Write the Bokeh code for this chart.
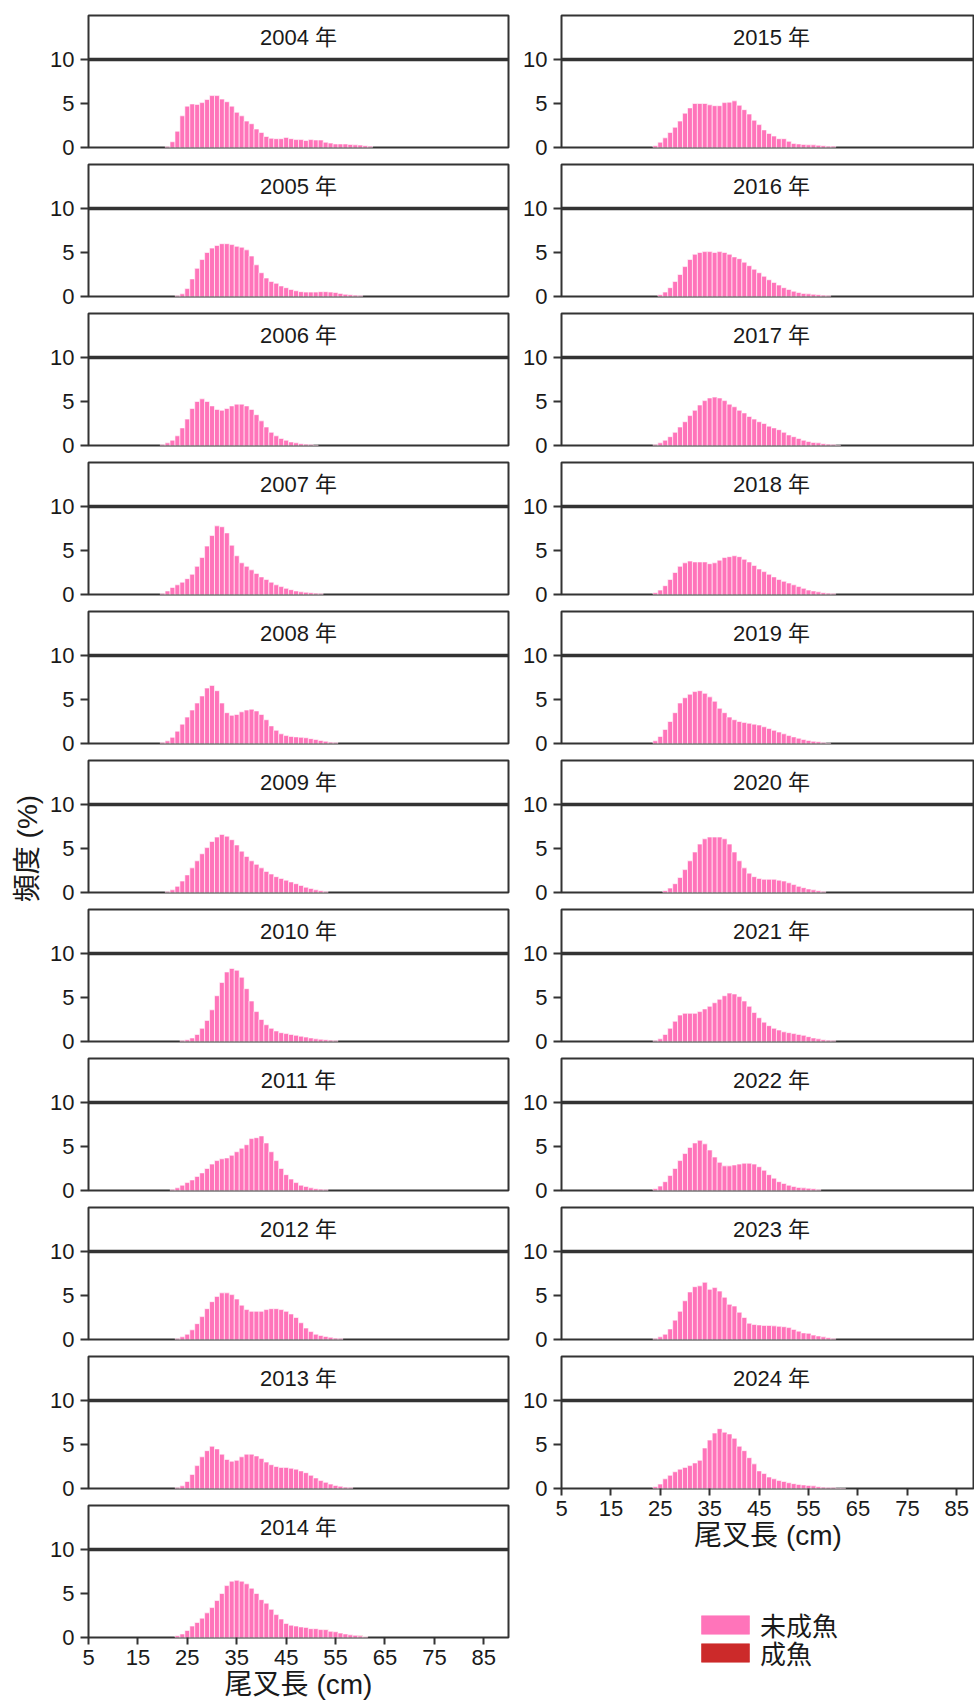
import math
from bokeh.plotting import figure
from bokeh.layouts import row, column
from bokeh.models import Range1d, FixedTicker, Span, Legend, LegendItem, ColumnDataSource
from bokeh.core.properties import value
from bokeh.embed import file_html
from bokeh.resources import INLINE

# ---------------- data ----------------
years_left = [2004, 2005, 2006, 2007, 2008, 2009, 2010, 2011, 2012, 2013, 2014]
years_right = [2015, 2016, 2017, 2018, 2019, 2020, 2021, 2022, 2023, 2024]
x_ticks = [5, 15, 25, 35, 45, 55, 65, 75, 85]
y_ticks = [0, 5, 10]
x_label = "尾叉長 (cm)"
y_label = "頻度 (%)"
legend_labels = ["未成魚", "成魚"]

# first length bin (cm) of each year's immature list
start_bin = {2004: 21, 2005: 23, 2006: 20, 2007: 20, 2008: 20, 2009: 21, 2010: 24,
             2011: 22, 2012: 23, 2013: 23, 2014: 23, 2015: 24, 2016: 25, 2017: 24,
             2018: 24, 2019: 24, 2020: 26, 2021: 24, 2022: 24, 2023: 24, 2024: 24}

imm_2004 = [0.1, 0.65, 1.85, 3.6, 4.7, 4.95, 4.9, 5.1, 5.45, 5.9, 5.9, 5.5, 5.2, 4.7, 4.0, 3.6,
            3.0, 2.7, 2.1, 1.7, 1.25, 1.05, 1.0, 1.0, 1.15, 1.0, 0.9, 0.9, 0.8, 0.9, 0.85, 0.85,
            0.6, 0.5, 0.4, 0.4, 0.4, 0.35, 0.3, 0.27, 0.2, 0.15]
imm_2005 = [0.1, 0.3, 0.9, 2.0, 3.2, 4.2, 5.0, 5.5, 5.8, 6.0, 6.0, 5.9, 5.7, 5.6, 5.3, 4.6,
            3.6, 2.7, 2.1, 1.7, 1.5, 1.2, 1.0, 0.8, 0.65, 0.55, 0.5, 0.5, 0.5, 0.55, 0.55, 0.5,
            0.45, 0.35, 0.25, 0.2, 0.15, 0.1]
imm_2006 = [0.1, 0.3, 0.6, 1.1, 2.0, 3.0, 4.2, 5.0, 5.3, 5.0, 4.5, 4.1, 4.0, 4.2, 4.5, 4.7,
            4.7, 4.5, 4.1, 3.5, 2.8, 2.1, 1.5, 1.1, 0.8, 0.6, 0.4, 0.3, 0.2, 0.15, 0.1, 0.05]
imm_2007 = [0.1, 0.4, 0.8, 1.1, 1.4, 1.8, 2.3, 3.2, 4.2, 5.5, 6.7, 7.8, 7.7, 7.0, 5.6, 4.4,
            3.6, 3.2, 2.8, 2.4, 2.0, 1.7, 1.4, 1.1, 0.9, 0.7, 0.55, 0.4, 0.3, 0.25, 0.2, 0.15, 0.1]
imm_2008 = [0.1, 0.3, 0.7, 1.4, 2.2, 3.0, 3.8, 4.6, 5.4, 6.3, 6.6, 6.0, 4.6, 3.5, 3.2, 3.3,
            3.6, 3.8, 3.9, 3.7, 3.3, 2.7, 2.0, 1.5, 1.1, 0.9, 0.8, 0.75, 0.7, 0.65, 0.55, 0.45,
            0.35, 0.25, 0.15, 0.1]
imm_2009 = [0.1, 0.3, 0.7, 1.3, 2.0, 2.8, 3.6, 4.4, 5.1, 5.8, 6.3, 6.6, 6.4, 6.0, 5.4, 4.7,
            4.1, 3.6, 3.2, 2.8, 2.4, 2.1, 1.8, 1.6, 1.4, 1.2, 1.0, 0.8, 0.6, 0.45, 0.3, 0.2, 0.1]
imm_2010 = [0.1, 0.2, 0.4, 0.8, 1.5, 2.4, 3.6, 5.2, 6.7, 7.9, 8.3, 8.1, 7.3, 6.0, 4.6, 3.4,
            2.5, 1.9, 1.5, 1.2, 1.0, 0.9, 0.8, 0.7, 0.6, 0.5, 0.4, 0.3, 0.25, 0.2, 0.15, 0.1]
imm_2011 = [0.1, 0.3, 0.6, 0.9, 1.2, 1.6, 2.0, 2.5, 3.0, 3.4, 3.6, 3.7, 4.0, 4.4, 4.8, 5.2,
            5.9, 6.0, 6.2, 5.4, 4.4, 3.4, 2.5, 1.8, 1.3, 0.9, 0.6, 0.45, 0.3, 0.2, 0.15, 0.1]
imm_2012 = [0.1, 0.3, 0.6, 1.1, 1.8, 2.6, 3.5, 4.3, 4.9, 5.3, 5.3, 5.1, 4.6, 3.9, 3.4, 3.2,
            3.2, 3.2, 3.4, 3.5, 3.5, 3.4, 3.2, 2.9, 2.5, 1.9, 1.3, 0.9, 0.6, 0.45, 0.35, 0.25,
            0.15, 0.1]
imm_2013 = [0.1, 0.3, 0.8, 1.6, 2.6, 3.6, 4.3, 4.8, 4.5, 3.9, 3.3, 3.1, 3.2, 3.6, 3.9, 3.9,
            3.7, 3.4, 3.0, 2.7, 2.5, 2.4, 2.4, 2.3, 2.2, 2.0, 1.8, 1.5, 1.2, 0.9, 0.7, 0.5,
            0.35, 0.25, 0.15, 0.1]
imm_2014 = [0.2, 0.4, 0.8, 1.3, 1.7, 2.2, 2.8, 3.4, 4.2, 5.0, 5.9, 6.4, 6.5, 6.4, 6.1, 5.6,
            5.0, 4.3, 3.9, 3.2, 2.6, 2.1, 1.6, 1.4, 1.3, 1.2, 1.15, 1.0, 1.0, 0.9, 0.9, 0.7,
            0.65, 0.5, 0.4, 0.3, 0.25, 0.2, 0.1]
imm_2015 = [0.2, 0.6, 1.1, 1.7, 2.3, 3.0, 3.9, 4.5, 5.0, 5.0, 5.0, 4.85, 4.75, 4.75, 5.1, 5.15,
            5.3, 4.8, 4.3, 3.8, 3.1, 2.6, 2.0, 1.6, 1.3, 1.0, 1.0, 0.7, 0.45, 0.4, 0.35, 0.3,
            0.3, 0.25, 0.2, 0.15, 0.15]
imm_2016 = [0.2, 0.5, 1.0, 1.7, 2.5, 3.4, 4.2, 4.8, 5.0, 5.1, 5.1, 5.0, 5.1, 5.0, 4.8, 4.5,
            4.3, 3.9, 3.5, 3.1, 2.7, 2.3, 1.9, 1.6, 1.3, 1.0, 0.8, 0.6, 0.45, 0.35, 0.3, 0.25,
            0.2, 0.15, 0.1]
imm_2017 = [0.1, 0.3, 0.6, 1.0, 1.5, 2.1, 2.7, 3.4, 4.0, 4.6, 5.1, 5.4, 5.5, 5.4, 5.1, 4.7,
            4.4, 4.0, 3.7, 3.3, 3.0, 2.7, 2.5, 2.2, 2.0, 1.8, 1.5, 1.2, 1.0, 0.8, 0.6, 0.45,
            0.35, 0.3, 0.2, 0.15, 0.1, 0.05]
imm_2018 = [0.2, 0.5, 1.0, 1.7, 2.5, 3.2, 3.6, 3.8, 3.7, 3.7, 3.7, 3.5, 3.6, 3.9, 4.2, 4.3,
            4.4, 4.3, 4.0, 3.7, 3.3, 2.9, 2.6, 2.3, 2.0, 1.7, 1.5, 1.3, 1.1, 0.9, 0.7, 0.5,
            0.4, 0.3, 0.2, 0.15, 0.1]
imm_2019 = [0.3, 0.8, 1.6, 2.5, 3.5, 4.6, 5.2, 5.6, 5.9, 6.0, 5.7, 5.3, 4.8, 4.0, 3.5, 3.0,
            2.7, 2.5, 2.4, 2.3, 2.2, 2.1, 1.9, 1.7, 1.5, 1.3, 1.1, 0.9, 0.75, 0.6, 0.45, 0.35,
            0.25, 0.2, 0.1, 0.05]
imm_2020 = [0.2, 0.5, 1.0, 1.7, 2.6, 3.6, 4.6, 5.5, 6.1, 6.3, 6.3, 6.3, 6.1, 5.5, 4.6, 3.6,
            2.8, 2.2, 1.8, 1.6, 1.5, 1.5, 1.5, 1.4, 1.3, 1.1, 0.9, 0.7, 0.55, 0.4, 0.3, 0.2, 0.1]
imm_2021 = [0.1, 0.3, 0.8, 1.5, 2.3, 3.0, 3.2, 3.2, 3.2, 3.4, 3.7, 4.0, 4.4, 4.8, 5.2, 5.5,
            5.4, 5.1, 4.6, 4.0, 3.3, 2.7, 2.2, 1.8, 1.5, 1.3, 1.1, 1.0, 0.9, 0.8, 0.7, 0.55,
            0.4, 0.3, 0.2, 0.15, 0.1]
imm_2022 = [0.2, 0.5, 1.0, 1.7, 2.5, 3.4, 4.2, 4.9, 5.4, 5.7, 5.3, 4.6, 3.8, 3.2, 2.8, 2.8,
            2.9, 3.0, 3.1, 3.1, 3.0, 2.7, 2.3, 1.8, 1.4, 1.0, 0.8, 0.6, 0.45, 0.35, 0.3, 0.25,
            0.2, 0.1]
imm_2023 = [0.1, 0.3, 0.6, 1.2, 2.2, 3.2, 4.4, 5.4, 6.0, 6.1, 6.5, 5.7, 5.9, 5.5, 4.8, 4.0,
            3.8, 3.1, 2.5, 1.85, 1.7, 1.65, 1.6, 1.6, 1.55, 1.5, 1.45, 1.35, 1.15, 0.95, 0.75,
            0.7, 0.5, 0.4, 0.3, 0.2, 0.1]
imm_2024 = [0.2, 0.5, 1.1, 1.5, 1.9, 2.2, 2.4, 2.6, 2.9, 3.2, 4.6, 5.5, 6.3, 6.8, 6.4, 6.2,
            5.7, 4.8, 4.3, 3.5, 2.8, 2.0, 1.7, 1.3, 1.1, 0.9, 0.8, 0.65, 0.55, 0.45, 0.4, 0.35,
            0.3, 0.2, 0.15, 0.12, 0.1, 0.05, 0.05]

# mature fish (成魚): only traces in the largest size classes
mat_len_2014 = [53, 60, 61]
mat_2014 = [0.05, 0.05, 0.05]

immature = {2004: imm_2004, 2005: imm_2005, 2006: imm_2006, 2007: imm_2007, 2008: imm_2008,
            2009: imm_2009, 2010: imm_2010, 2011: imm_2011, 2012: imm_2012, 2013: imm_2013,
            2014: imm_2014, 2015: imm_2015, 2016: imm_2016, 2017: imm_2017, 2018: imm_2018,
            2019: imm_2019, 2020: imm_2020, 2021: imm_2021, 2022: imm_2022, 2023: imm_2023,
            2024: imm_2024}
mature = {2014: (mat_len_2014, mat_2014)}

# ---------------- style ----------------
FONT = "Liberation Sans, Noto Sans CJK JP"
PINK = "#FF74BA"
RED = "#CC2A2A"
DARK = "#333333"
TXT = "#1a1a1a"

FRAME_H = 132
LEFT_W = 420
RIGHT_W = 413
PX_PER_CM = LEFT_W / 85.0
TICK_FS = "22px"
STRIP_FS = "22px"
LABEL_FS = "28px"


def make_panel(year, right, first, bottom):
    imm = immature[year]
    lengths = [start_bin[year] + i for i in range(len(imm))]
    fw = RIGHT_W if right else LEFT_W
    x_end = 5 + fw / PX_PER_CM
    p = figure(frame_width=fw, frame_height=FRAME_H,
               x_range=Range1d(5, x_end), y_range=Range1d(0, 15),
               output_backend="svg", toolbar_location=None,
               min_border_left=45 if right else 44,
               min_border_right=0 if right else 8,
               min_border_top=15 if first else 3, min_border_bottom=14,
               background_fill_color="white", border_fill_color="white")
    src = ColumnDataSource(dict(x=lengths, top=imm))
    p.vbar(x="x", top="top", width=1.0, source=src,
           fill_color=PINK, line_color="white", line_width=0.6)
    mat_x, mat_v = mature.get(year, ([], []))
    if mat_x:
        lookup = dict(zip(lengths, imm))
        bottoms = [lookup.get(x, 0) for x in mat_x]
        msrc = ColumnDataSource(dict(x=mat_x, bottom=bottoms,
                                     top=[b + v for b, v in zip(bottoms, mat_v)]))
        p.vbar(x="x", bottom="bottom", top="top", width=1.0, source=msrc,
               fill_color=RED, line_color="white", line_width=0.6)

    # strip
    p.add_layout(Span(location=10, dimension="width", line_color=DARK, line_width=3.5))
    p.text(x=[47.5], y=[12.5], text=[f"{year} 年"], text_align="center",
           text_baseline="middle", text_font=value(FONT), text_font_size=STRIP_FS,
           text_color=TXT)

    p.outline_line_color = DARK
    p.outline_line_width = 2
    p.xgrid.visible = False
    p.ygrid.visible = False

    ya = p.yaxis[0]
    ya.ticker = FixedTicker(ticks=y_ticks)
    ya.axis_line_color = None
    ya.major_tick_in = 0
    ya.major_tick_out = 8
    ya.minor_tick_in = 0
    ya.minor_tick_out = 0
    ya.major_tick_line_color = DARK
    ya.major_tick_line_width = 2
    ya.major_label_text_font = FONT
    ya.major_label_text_font_size = TICK_FS
    ya.major_label_text_color = TXT
    ya.major_label_standoff = 6

    xa = p.xaxis[0]
    if bottom:
        xa.ticker = FixedTicker(ticks=x_ticks)
        xa.axis_line_color = None
        xa.major_tick_in = 0
        xa.major_tick_out = 7
        xa.minor_tick_in = 0
        xa.minor_tick_out = 0
        xa.major_tick_line_color = DARK
        xa.major_tick_line_width = 2
        xa.major_label_text_font = FONT
        xa.major_label_text_font_size = TICK_FS
        xa.major_label_text_color = TXT
        xa.major_label_standoff = 5
        xa.axis_label = x_label
        xa.axis_label_text_font = FONT
        xa.axis_label_text_font_size = LABEL_FS
        xa.axis_label_text_font_style = "normal"
        xa.axis_label_text_color = TXT
        xa.axis_label_standoff = 1
        p.min_border_bottom = 0
    else:
        xa.visible = False
    return p, src


left_panels = [make_panel(y, False, i == 0, i == len(years_left) - 1)[0]
               for i, y in enumerate(years_left)]
right_panels = []
key_source = None
for i, y in enumerate(years_right):
    p, src = make_panel(y, True, i == 0, i == len(years_right) - 1)
    right_panels.append(p)
    key_source = src

# legend figure: keys are invisible renderers sharing the last panel's data
LEG_H = 130
leg = figure(width=45 + RIGHT_W, height=LEG_H, x_range=Range1d(0, 1), y_range=Range1d(0, 1),
             output_backend="svg", toolbar_location=None, min_border=0,
             x_axis_location=None, y_axis_location=None, outline_line_color=None)
leg.grid.visible = False
k_imm = leg.vbar(x="x", top="top", width=1, source=key_source, visible=False,
                 fill_color=PINK, line_color=PINK, line_width=0.6)
k_mat = leg.vbar(x="x", top="top", width=1, source=key_source, visible=False,
                 fill_color=RED, line_color=RED, line_width=0.6)
LEG_KW = dict(padding=0, spacing=0, margin=0, glyph_width=60, glyph_height=23,
              label_standoff=5, label_text_font=FONT, label_text_font_size="26px",
              label_text_color=TXT, border_line_color=None, background_fill_alpha=0,
              inactive_fill_alpha=0)
leg.add_layout(Legend(items=[LegendItem(label=legend_labels[0], renderers=[k_imm])],
                      location=(134, 40), **LEG_KW), "center")
leg.add_layout(Legend(items=[LegendItem(label=legend_labels[1], renderers=[k_mat])],
                      location=(134, 12), **LEG_KW), "center")

TOTAL_H = 1700
lab = figure(width=44, height=TOTAL_H, x_range=Range1d(0, 44), y_range=Range1d(0, TOTAL_H),
             output_backend="svg", toolbar_location=None, min_border=0,
             x_axis_location=None, y_axis_location=None, outline_line_color=None)
lab.grid.visible = False
lab.text(x=[27], y=[TOTAL_H - 848], text=[y_label], angle=math.pi / 2,
         text_align="center", text_baseline="middle", text_font=value(FONT),
         text_font_size=LABEL_FS, text_color=TXT)

layout = row(lab, column(*left_panels, spacing=0),
             column(*right_panels, leg, spacing=0), spacing=0)

with open("out.html", "w") as f:
    f.write(file_html(layout, INLINE))
